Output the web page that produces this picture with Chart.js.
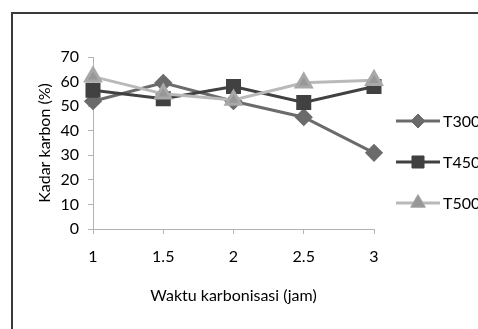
<!DOCTYPE html>
<html>
<head>
<meta charset="utf-8">
<script src="https://cdn.jsdelivr.net/npm/chart.js@4/dist/chart.umd.min.js"></script>
<style>
html,body{margin:0;padding:0;background:#fff;overflow:hidden;width:478px;height:329px;}
canvas{display:block;}
</style>
</head>
<body>
<canvas id="c" width="500" height="329"></canvas>
<script>
// ---- data ----
const categories = ['1', '1.5', '2', '2.5', '3'];
const seriesNames = ['T300', 'T450', 'T500'];
const t300 = [52, 59.5, 52, 45.5, 31];
const t450 = [56.5, 53, 58, 51.5, 58];
const t500 = [62, 55, 52.5, 59.5, 60.5];
const yTicks = [0, 10, 20, 30, 40, 50, 60, 70];

const FONT = 'Lato, "Open Sans", "Liberation Sans", sans-serif';

const frame = {
  id: 'frame',
  beforeDraw(chart) {
    const ctx = chart.ctx;
    ctx.save();
    ctx.strokeStyle = '#3a3a3a';
    ctx.lineWidth = 2;
    ctx.strokeRect(12, 13, 600, 400);
    ctx.restore();
  }
};

const legendRows = [121, 162, 203];
const sideLegend = {
  id: 'sideLegend',
  afterDraw(chart) {
    const ctx = chart.ctx;
    chart.data.datasets.forEach((ds, i) => {
      const y = legendRows[i];
      ctx.save();
      ctx.strokeStyle = ds.borderColor;
      ctx.lineWidth = ds.borderWidth;
      ctx.beginPath();
      ctx.moveTo(396, y);
      ctx.lineTo(440, y);
      ctx.stroke();
      ctx.fillStyle = ds.pointBackgroundColor;
      ctx.strokeStyle = ds.pointBorderColor;
      ctx.lineWidth = 1;
      Chart.helpers.drawPoint(ctx, {
        pointStyle: ds.pointStyle,
        radius: ds.pointRadius,
        rotation: 0,
        borderWidth: 1
      }, 418, y);
      ctx.fillStyle = '#000';
      ctx.font = '16px ' + FONT;
      ctx.textBaseline = 'middle';
      ctx.textAlign = 'left';
      ctx.fillText(ds.label, 443, y + 1);
      ctx.restore();
    });
  }
};

new Chart(document.getElementById('c'), {
  type: 'line',
  data: {
    labels: categories,
    datasets: [
      {
        label: seriesNames[0], data: t300,
        borderColor: '#6b6b6b', borderWidth: 3,
        pointStyle: 'rectRot', pointRadius: 7,
        pointBackgroundColor: '#6b6b6b', pointBorderColor: '#6b6b6b',
        order: 3, tension: 0
      },
      {
        label: seriesNames[1], data: t450,
        borderColor: '#414141', borderWidth: 3,
        pointStyle: 'rect', pointRadius: 8.5,
        pointBackgroundColor: '#414141', pointBorderColor: '#414141',
        order: 2, tension: 0
      },
      {
        label: seriesNames[2], data: t500,
        borderColor: '#b9b9b9', borderWidth: 3,
        pointStyle: 'triangle', pointRadius: 8.5,
        pointBackgroundColor: '#979797', pointBorderColor: '#a8a8a8',
        order: 1, tension: 0
      }
    ]
  },
  options: {
    responsive: false,
    animation: false,
    devicePixelRatio: 1,
    layout: { padding: { left: 35, right: 126, top: 57, bottom: 0 } },
    plugins: { legend: { display: false }, tooltip: { enabled: false } },
    scales: {
      x: {
        type: 'category',
        offset: false,
        grid: { display: true, drawOnChartArea: false, drawTicks: true, tickLength: 5, color: '#b3b3b3' },
        border: { display: true, color: '#b3b3b3', width: 1 },
        ticks: { color: '#000', font: { family: FONT, size: 16 }, padding: 13, maxRotation: 0, autoSkip: false },
        title: { display: true, text: 'Waktu karbonisasi (jam)', color: '#000',
                 font: { family: FONT, size: 16 }, padding: { top: 0, bottom: 24 } },
        afterFit(scale) { scale.height = 100; }
      },
      y: {
        min: 0, max: 70,
        afterBuildTicks(scale) { scale.ticks = yTicks.map(v => ({ value: v })); },
        grid: { display: true, drawOnChartArea: false, drawTicks: true, tickLength: 5, color: '#b3b3b3' },
        border: { display: true, color: '#b3b3b3', width: 1 },
        ticks: { color: '#000', font: { family: FONT, size: 16 }, padding: 9 },
        title: { display: true, text: 'Kadar karbon (%)', color: '#000',
                 font: { family: FONT, size: 16 }, padding: { top: 0, bottom: 0 } },
        afterFit(scale) { scale.width = 58; }
      }
    }
  },
  plugins: [frame, sideLegend]
});
</script>
</body>
</html>
